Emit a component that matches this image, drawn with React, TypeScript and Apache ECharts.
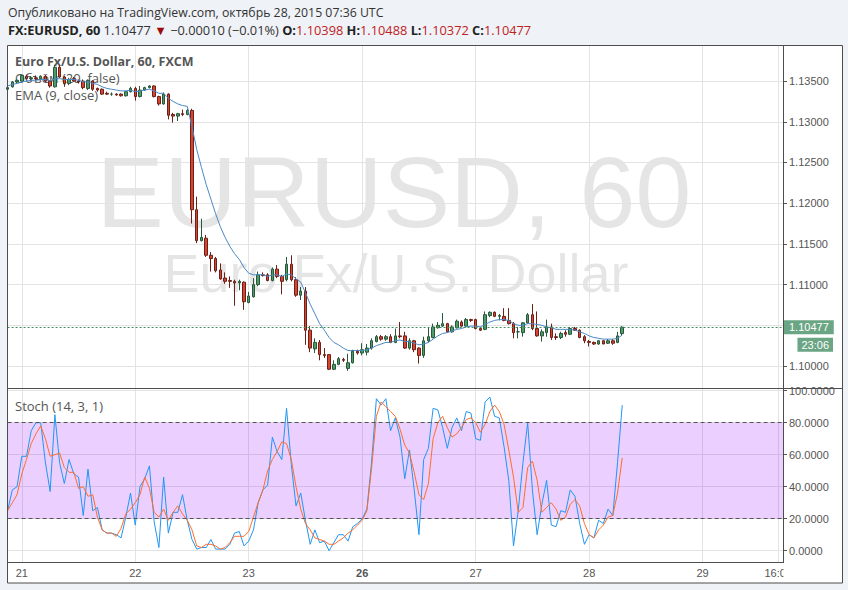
import React, { useEffect, useRef } from "react";
import * as echarts from "echarts";

// ---------- data ----------
const opens = [
  1.1340, 1.1343, 1.1349, 1.1350, 1.1356, 1.1353, 1.1354, 1.1353, 1.1356, 1.1350,
  1.1343, 1.1367, 1.1355, 1.1347, 1.1353, 1.1350, 1.1350, 1.1341, 1.1350, 1.1341,
  1.1340, 1.1335, 1.1334, 1.1334, 1.1334, 1.1332, 1.1337, 1.1341, 1.1331, 1.1339,
  1.1342, 1.1344, 1.1331, 1.1322, 1.1334, 1.1309, 1.1307, 1.1310, 1.1309, 1.1314,
  1.1192, 1.1154, 1.1157, 1.1136, 1.1132, 1.1118, 1.1108, 1.1105, 1.1104, 1.1102,
  1.1103, 1.1078, 1.1085, 1.1100, 1.1112, 1.1112, 1.1105, 1.1119, 1.1110, 1.1106,
  1.1125, 1.1106, 1.1087, 1.1092, 1.1044, 1.1021, 1.1029, 1.1014, 1.1014, 1.0996,
  1.1002, 1.1008, 1.0997, 1.1004, 1.1018, 1.1016, 1.1017, 1.1022, 1.1030, 1.1036,
  1.1033, 1.1036, 1.1029, 1.1037, 1.1037, 1.1022, 1.1031, 1.1022, 1.1013, 1.1031,
  1.1035, 1.1047, 1.1049, 1.1052, 1.1042, 1.1047, 1.1054, 1.1049, 1.1057, 1.1057,
  1.1046, 1.1045, 1.1062, 1.1066, 1.1061, 1.1061, 1.1056, 1.1052, 1.1042, 1.1041,
  1.1053, 1.1063, 1.1046, 1.1037, 1.1041, 1.1048, 1.1036, 1.1035, 1.1041, 1.1039,
  1.1046, 1.1044, 1.1036, 1.1030, 1.1029, 1.1027, 1.1031, 1.1028, 1.1031, 1.1029,
  1.10398,
];
const highs = [
  1.1343, 1.1350, 1.1352, 1.1358, 1.1358, 1.1356, 1.1357, 1.1357, 1.1358, 1.1351,
  1.1370, 1.1369, 1.1356, 1.1354, 1.1355, 1.1352, 1.1352, 1.1352, 1.1351, 1.1342,
  1.1341, 1.1337, 1.1336, 1.1335, 1.1335, 1.1338, 1.1343, 1.1343, 1.1344, 1.1343,
  1.1345, 1.1345, 1.1332, 1.1336, 1.1335, 1.1311, 1.1311, 1.1315, 1.1316, 1.1316,
  1.1208, 1.1181, 1.1161, 1.1140, 1.1134, 1.1126, 1.1115, 1.1110, 1.1106, 1.1106,
  1.1104, 1.1091, 1.1108, 1.1116, 1.1115, 1.1114, 1.1121, 1.1124, 1.1112, 1.1134,
  1.1136, 1.1109, 1.1097, 1.1097, 1.1049, 1.1034, 1.1032, 1.1022, 1.1014, 1.1007,
  1.1011, 1.1010, 1.1015, 1.1020, 1.1020, 1.1028, 1.1027, 1.1034, 1.1038, 1.1038,
  1.1038, 1.1039, 1.1046, 1.1054, 1.1042, 1.1034, 1.1032, 1.1023, 1.1036, 1.1048,
  1.1052, 1.1054, 1.1065, 1.1053, 1.1050, 1.1057, 1.1056, 1.1059, 1.1058, 1.1058,
  1.1048, 1.1067, 1.1067, 1.1067, 1.1064, 1.1071, 1.1071, 1.1054, 1.1048, 1.1054,
  1.1065, 1.1076, 1.1067, 1.1045, 1.1057, 1.1052, 1.1040, 1.1042, 1.1044, 1.1048,
  1.1048, 1.1045, 1.1038, 1.1032, 1.1030, 1.1032, 1.1032, 1.1033, 1.1033, 1.1042,
  1.10488,
];
const lows = [
  1.1338, 1.1342, 1.1347, 1.1349, 1.1352, 1.1351, 1.1351, 1.1352, 1.1349, 1.1342,
  1.1342, 1.1354, 1.1343, 1.1345, 1.1349, 1.1347, 1.1340, 1.1339, 1.1338, 1.1337,
  1.1333, 1.1333, 1.1332, 1.1332, 1.1331, 1.1331, 1.1336, 1.1326, 1.1330, 1.1338,
  1.1341, 1.1330, 1.1320, 1.1321, 1.1303, 1.1299, 1.1301, 1.1307, 1.1308, 1.1175,
  1.1151, 1.1153, 1.1134, 1.1116, 1.1115, 1.1106, 1.1101, 1.1096, 1.1074, 1.1093,
  1.1069, 1.1077, 1.1084, 1.1098, 1.1110, 1.1104, 1.1104, 1.1108, 1.1088, 1.1104,
  1.1104, 1.1085, 1.1081, 1.1026, 1.1017, 1.1016, 1.1007, 1.1010, 1.0995, 1.0995,
  1.1001, 1.1005, 1.0994, 1.1003, 1.1014, 1.1013, 1.1013, 1.1020, 1.1029, 1.1031,
  1.1031, 1.1028, 1.1028, 1.1034, 1.1021, 1.1020, 1.1017, 1.1003, 1.1010, 1.1029,
  1.1034, 1.1046, 1.1048, 1.1041, 1.1041, 1.1046, 1.1048, 1.1048, 1.1054, 1.1045,
  1.1043, 1.1044, 1.1060, 1.1060, 1.1056, 1.1055, 1.1051, 1.1034, 1.1034, 1.1036,
  1.1052, 1.1044, 1.1036, 1.1030, 1.1036, 1.1032, 1.1032, 1.1033, 1.1036, 1.1038,
  1.1043, 1.1034, 1.1028, 1.1024, 1.1026, 1.1026, 1.1027, 1.1027, 1.1026, 1.1028,
  1.10372,
];
const closes = [
  1.1342, 1.1349, 1.1351, 1.1357, 1.1353, 1.1354, 1.1353, 1.1356, 1.1350, 1.1344,
  1.1367, 1.1355, 1.1347, 1.1352, 1.1350, 1.1349, 1.1342, 1.1351, 1.1340, 1.1339,
  1.1334, 1.1334, 1.1334, 1.1333, 1.1332, 1.1337, 1.1341, 1.1331, 1.1339, 1.1342,
  1.1344, 1.1331, 1.1322, 1.1334, 1.1308, 1.1307, 1.1310, 1.1309, 1.1314, 1.1192,
  1.1154, 1.1158, 1.1136, 1.1132, 1.1117, 1.1107, 1.1104, 1.1104, 1.1102, 1.1104,
  1.1079, 1.1086, 1.1100, 1.1112, 1.1111, 1.1105, 1.1119, 1.1110, 1.1104, 1.1125,
  1.1106, 1.1087, 1.1092, 1.1044, 1.1022, 1.1029, 1.1014, 1.1013, 1.0996, 1.1002,
  1.1009, 1.1007, 1.1004, 1.1018, 1.1016, 1.1020, 1.1022, 1.1031, 1.1036, 1.1033,
  1.1036, 1.1029, 1.1037, 1.1036, 1.1022, 1.1031, 1.1020, 1.1013, 1.1031, 1.1036,
  1.1048, 1.1050, 1.1052, 1.1042, 1.1048, 1.1055, 1.1049, 1.1057, 1.1056, 1.1046,
  1.1044, 1.1063, 1.1066, 1.1061, 1.1062, 1.1056, 1.1052, 1.1041, 1.1042, 1.1053,
  1.1063, 1.1046, 1.1037, 1.1042, 1.1048, 1.1035, 1.1035, 1.1040, 1.1039, 1.1046,
  1.1044, 1.1035, 1.1031, 1.1029, 1.1027, 1.1031, 1.1027, 1.1031, 1.1028, 1.1037,
  1.10477,
];
const emaValues = [
  1.1344, 1.1346, 1.1347, 1.1349, 1.1350, 1.1351, 1.1351, 1.1352, 1.1352, 1.1350,
  1.1353, 1.1353, 1.1352, 1.1352, 1.1352, 1.1351, 1.1349, 1.1349, 1.1347, 1.1346,
  1.1343, 1.1341, 1.1340, 1.1339, 1.1338, 1.1338, 1.1339, 1.1337, 1.1338, 1.1339,
  1.1340, 1.1338, 1.1335, 1.1335, 1.1329, 1.1325, 1.1322, 1.1320, 1.1319, 1.1294,
  1.1266, 1.1244, 1.1223, 1.1205, 1.1187, 1.1171, 1.1158, 1.1147, 1.1138, 1.1131,
  1.1121, 1.1114, 1.1112, 1.1112, 1.1112, 1.1110, 1.1112, 1.1112, 1.1110, 1.1113,
  1.1112, 1.1107, 1.1103, 1.1090, 1.1076, 1.1064, 1.1052, 1.1044, 1.1035, 1.1029,
  1.1026, 1.1022, 1.1019, 1.1019, 1.1019, 1.1019, 1.1020, 1.1022, 1.1025, 1.1027,
  1.1029, 1.1029, 1.1031, 1.1032, 1.1030, 1.1030, 1.1028, 1.1026, 1.1027, 1.1029,
  1.1033, 1.1037, 1.1040, 1.1041, 1.1043, 1.1045, 1.1046, 1.1048, 1.1049, 1.1049,
  1.1048, 1.1051, 1.1054, 1.1056, 1.1057, 1.1057, 1.1056, 1.1052, 1.1050, 1.1050,
  1.1052, 1.1052, 1.1051, 1.1050, 1.1048, 1.1047, 1.1045, 1.1045, 1.1045, 1.1045,
  1.1044, 1.1042, 1.1040, 1.1037, 1.1035, 1.1034, 1.1033, 1.1033, 1.1033, 1.1034,
  1.1038,
];
const stochK = [
  25, 38, 40, 59, 59, 75, 80, 80, 55, 37,
  85, 55, 42, 57, 48, 46, 22, 51, 25, 27,
  13, 11, 11, 10, 8, 21, 36, 16, 40, 45,
  53, 18, 2, 46, 11, 24, 24, 35, 19, 7,
  1, 2, 2, 7, 1, 1, 1, 4, 11, 12,
  3, 6, 13, 30, 38, 41, 71, 62, 57, 89,
  54, 28, 36, 19, 4, 13, 5, 6, 0, 5,
  10, 10, 6, 15, 17, 20, 26, 56, 95, 91,
  95, 75, 83, 71, 45, 63, 38, 10, 57, 64,
  89, 88, 77, 64, 77, 83, 75, 87, 86, 70,
  69, 93, 96, 84, 83, 65, 44, 3, 25, 55,
  80, 38, 10, 29, 44, 16, 15, 25, 24, 38,
  34, 17, 4, 10, 8, 19, 17, 26, 22, 55,
  91,
];
const stochD = [
  25, 30, 35, 48, 57, 67, 73, 78, 70, 59,
  60, 61, 52, 49, 49, 39, 40, 34, 35, 21,
  13, 11, 11, 9, 14, 23, 26, 30, 35, 46,
  39, 24, 21, 26, 19, 24, 28, 23, 19, 13,
  3, 2, 4, 4, 3, 1, 2, 5, 9, 9,
  9, 12, 21, 30, 38, 50, 57, 62, 68, 67,
  57, 40, 26, 17, 13, 8, 7, 6, 4, 4,
  6, 8, 11, 13, 16, 19, 25, 52, 84, 93,
  90, 87, 84, 76, 66, 61, 49, 35, 32, 42,
  70, 80, 84, 77, 71, 73, 77, 82, 83, 80,
  74, 79, 87, 91, 87, 79, 63, 46, 24, 27,
  52, 56, 44, 24, 27, 30, 26, 19, 21, 29,
  32, 28, 17, 10, 8, 13, 16, 21, 22, 36,
  58,
];
const barCount = 165;
const tickIndex = [3, 27, 51, 75, 99, 123, 147, 163];
const tickLabels = ["21", "22", "23", "26", "27", "28", "29", "16:00"];
const boldTickLabels = ["26"];
const priceRange = [1.097297, 1.139435];
const stochRange = [-7.25, 101.69];
const stochBand = [20, 80];
const lastPrice = 1.10477;
const lastPriceText = "1.10477";
const timerText = "23:06";

const categories = Array.from({ length: barCount }, (_, i) => String(i));
const candleData = opens.map((o, i) => [o, closes[i], lows[i], highs[i]]);

const AX_FONT = '"Liberation Sans", Arial, sans-serif';
const UI_FONT = '"Open Sans", "Noto Sans", sans-serif';
const GRID_LEFT = 7.6;
const GRID_WIDTH = 775.4;

export default function App() {
  const ref = useRef<HTMLDivElement>(null);
  useEffect(() => {
    if (!ref.current) return;
    const chart = echarts.init(ref.current, null, { renderer: "svg" });
    const isTick = (i: number) => tickIndex.indexOf(i) >= 0;
    const splitLine = {
      show: true,
      interval: (i: number) => isTick(i),
      lineStyle: { color: "#e3e3e3", width: 1 },
    };
    chart.setOption({
      animation: false,
      backgroundColor: "#eff2f6",
      grid: [
        { left: GRID_LEFT, width: GRID_WIDTH, top: 45, height: 343 },
        { left: GRID_LEFT, width: GRID_WIDTH, top: 388, height: 174.3 },
      ],
      xAxis: [
        {
          type: "category", gridIndex: 0, data: categories, boundaryGap: false,
          axisLine: { show: false }, axisTick: { show: false }, axisLabel: { show: false },
          splitLine,
        },
        {
          type: "category", gridIndex: 1, data: categories, boundaryGap: false,
          axisLine: { show: false }, axisTick: { show: false },
          axisLabel: {
            show: true,
            interval: (i: number) => isTick(i),
            margin: 5,
            color: "#555",
            fontSize: 11,
            fontFamily: AX_FONT,
            formatter: (v: string) => {
              const k = tickIndex.indexOf(Number(v));
              if (k < 0) return "";
              const t = tickLabels[k];
              return boldTickLabels.indexOf(t) >= 0 ? `{b|${t}}` : t;
            },
            rich: { b: { fontWeight: "bold", color: "#555", fontSize: 11, fontFamily: AX_FONT } },
          },
          splitLine,
        },
      ],
      yAxis: [
        {
          type: "value", gridIndex: 0, position: "right",
          min: priceRange[0], max: priceRange[1], splitNumber: 8,
          axisLine: { show: false },
          axisTick: { show: true, length: 4, lineStyle: { color: "#555" } },
          axisLabel: {
            margin: 6, color: "#555", fontSize: 11, fontFamily: AX_FONT,
            showMinLabel: false, showMaxLabel: false,
            // the label hidden behind the last-price box is not drawn
            formatter: (v: number) => (Math.abs(v - lastPrice) < 0.0008 ? "" : v.toFixed(5)),
          },
          splitLine: { show: true, lineStyle: { color: "#e3e3e3" } },
        },
        {
          type: "value", gridIndex: 1, position: "right",
          min: stochRange[0], max: stochRange[1], splitNumber: 5,
          axisLine: { show: false },
          axisTick: { show: true, length: 4, lineStyle: { color: "#555" } },
          axisLabel: {
            margin: 6, color: "#555", fontSize: 11, fontFamily: AX_FONT,
            showMinLabel: false, showMaxLabel: false,
            formatter: (v: number) => v.toFixed(4),
          },
          splitLine: { show: true, lineStyle: { color: "#e3e3e3" } },
        },
      ],
      series: [
        {
          type: "candlestick", xAxisIndex: 0, yAxisIndex: 0, data: candleData,
          barWidth: 3, clip: false,
          itemStyle: {
            color: "#4f9a68", color0: "#d9432f",
            borderColor: "#27583a", borderColor0: "#6b2018", borderWidth: 1,
          },
        },
        {
          type: "line", xAxisIndex: 0, yAxisIndex: 0, data: emaValues,
          symbol: "none", showSymbol: false, z: 3,
          lineStyle: { color: "#4a89c5", width: 1 },
          markLine: {
            silent: true, symbol: ["none", "none"], precision: 5,
            data: [{ yAxis: lastPrice }],
            lineStyle: { color: "#3f8e5c", type: [2, 2], width: 1 },
            label: {
              show: true, position: "end", distance: 1, formatter: lastPriceText,
              color: "#fff", backgroundColor: "#6aa584", padding: [2, 5, 1, 5],
              fontSize: 11, fontFamily: AX_FONT,
            },
          },
        },
        {
          type: "line", xAxisIndex: 1, yAxisIndex: 1, data: stochK,
          symbol: "none", showSymbol: false,
          lineStyle: { color: "#2196f3", width: 1 },
          markArea: {
            silent: true,
            itemStyle: { color: "rgba(153,21,255,0.2)" },
            data: [[{ yAxis: stochBand[0] }, { yAxis: stochBand[1] }]],
          },
          markLine: {
            silent: true, symbol: ["none", "none"], label: { show: false },
            lineStyle: { color: "#555", type: [4, 3], width: 1 },
            data: [{ yAxis: stochBand[0] }, { yAxis: stochBand[1] }],
          },
        },
        {
          type: "line", xAxisIndex: 1, yAxisIndex: 1, data: stochD,
          symbol: "none", showSymbol: false,
          lineStyle: { color: "#ff6d2a", width: 1 },
        },
      ],
    });

    const py = chart.convertToPixel({ yAxisIndex: 0 }, lastPrice) as number;

    chart.setOption({
      graphic: [
        { type: "rect", silent: true, z: -10, shape: { x: 7, y: 45, width: 836, height: 538 }, style: { fill: "#ffffff" } },
        {
          type: "text", silent: true, z: -5, x: 394, y: 192,
          style: { text: "EURUSD, 60", fontSize: 101, fontFamily: AX_FONT, fill: "rgba(0,0,0,0.1)", align: "center", verticalAlign: "middle" },
        },
        {
          type: "text", silent: true, z: -5, x: 396, y: 273,
          style: { text: "Euro Fx/U.S. Dollar", fontSize: 54, fontFamily: AX_FONT, fill: "rgba(0,0,0,0.1)", align: "center", verticalAlign: "middle" },
        },
        // header
        {
          type: "text", silent: true, x: 8, y: 12,
          style: { text: "Опубликовано на TradingView.com, октябрь 28, 2015 07:36 UTC", fontSize: 12.3, fontFamily: UI_FONT, fill: "#333", verticalAlign: "middle" },
        },
        {
          type: "text", silent: true, x: 8, y: 30,
          style: {
            text: "{b|FX:EURUSD, 60} {n|1.10477} {t|▼} {n|−0.00010 (−0.01%)} {b|O:}{r|1.10398} {b|H:}{r|1.10488} {b|L:}{r|1.10372} {b|C:}{r|1.10477}",
            fontSize: 12.8, fontFamily: UI_FONT, fill: "#333", verticalAlign: "middle",
            rich: {
              b: { fontWeight: "bold", fill: "#222", fontSize: 12.8, fontFamily: UI_FONT },
              n: { fill: "#333", fontSize: 12.8, fontFamily: UI_FONT },
              t: { fill: "#9b0d0d", fontSize: 12.8, fontFamily: UI_FONT },
              r: { fill: "#c0221f", fontSize: 12.8, fontFamily: UI_FONT },
            },
          },
        },
        // pane legends
        {
          type: "text", silent: true, x: 15, y: 61,
          style: { text: "Euro Fx/U.S. Dollar, 60, FXCM", fontSize: 12.5, fontWeight: "bold", fontFamily: UI_FONT, fill: "#555", verticalAlign: "middle" },
        },
        {
          type: "text", silent: true, x: 15, y: 78,
          style: { text: "Объём (20, false)", fontSize: 13, fontFamily: UI_FONT, fill: "#555", verticalAlign: "middle" },
        },
        {
          type: "text", silent: true, x: 15, y: 95,
          style: { text: "EMA (9, close)", fontSize: 13, fontFamily: UI_FONT, fill: "#555", verticalAlign: "middle" },
        },
        {
          type: "text", silent: true, x: 15, y: 406,
          style: { text: "Stoch (14, 3, 1)", fontSize: 13, fontFamily: UI_FONT, fill: "#555", verticalAlign: "middle" },
        },
        // countdown box under the price label
        {
          type: "text", silent: true, z: 60, x: 833, y: py + 17.5,
          style: {
            text: timerText, fontSize: 11, fontFamily: AX_FONT, fill: "#fff",
            backgroundColor: "#6aa584", padding: [2, 4, 1, 4], align: "right", verticalAlign: "middle",
          },
        },
        // cover for the clipped last time label
        { type: "rect", silent: true, z: 50, shape: { x: 783.5, y: 563, width: 59, height: 19.5 }, style: { fill: "#ffffff" } },
        // frame lines
        { type: "rect", silent: true, z: 100, shape: { x: 7.5, y: 45.5, width: 835, height: 537.5 }, style: { fill: "none", stroke: "#4d4d4d", lineWidth: 1 } },
        { type: "line", silent: true, z: 100, shape: { x1: 7, y1: 388.5, x2: 843, y2: 388.5 }, style: { stroke: "#4d4d4d", lineWidth: 1 } },
        { type: "line", silent: true, z: 100, shape: { x1: 7, y1: 562.5, x2: 783.5, y2: 562.5 }, style: { stroke: "#4d4d4d", lineWidth: 1 } },
        { type: "line", silent: true, z: 100, shape: { x1: 783.5, y1: 45, x2: 783.5, y2: 563 }, style: { stroke: "#4d4d4d", lineWidth: 1 } },
      ],
    });

    return () => chart.dispose();
  }, []);
  return <div ref={ref} style={{ position: "absolute", left: 0, top: 0, width: 848, height: 590 }} />;
}
